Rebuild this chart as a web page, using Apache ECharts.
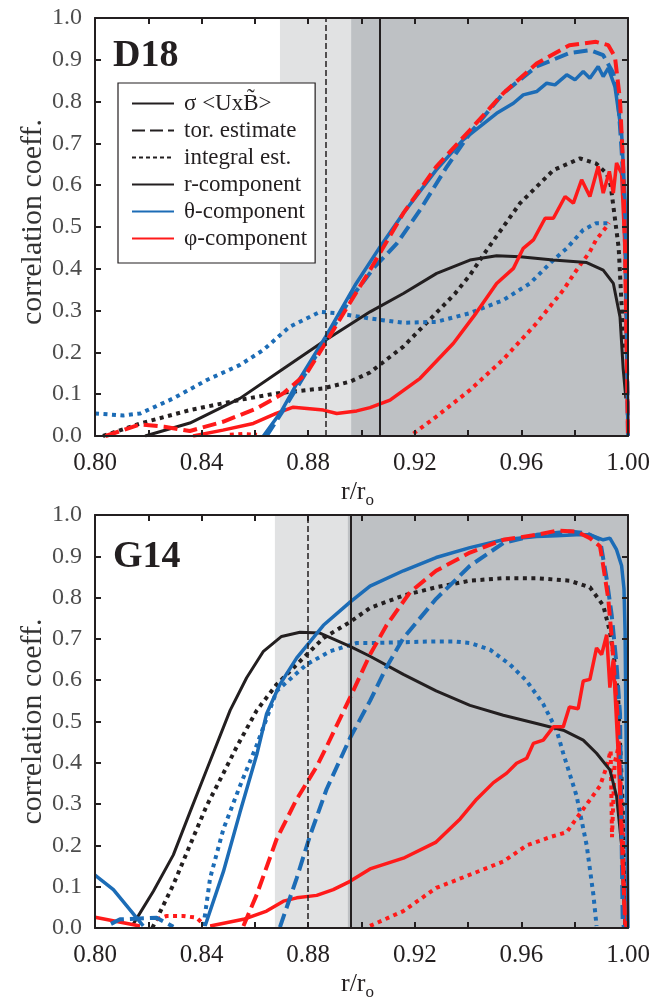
<!DOCTYPE html>
<html><head><meta charset="utf-8">
<script src="https://cdn.jsdelivr.net/npm/echarts@6/dist/echarts.min.js"></script>
<style>html,body{margin:0;padding:0;background:#fff}#c{width:653px;height:1002px}</style>
</head><body><div id="c"></div>
<script>
// ---------- data (r/r_o, correlation coeff.) ----------
const panelLabels = ['D18', 'G14'];
const xMin = 0.80, xMax = 1.00, xStep = 0.02;
const yMin = 0.0, yMax = 1.0, yStep = 0.1;
const legendNames = ['σ <UxB\u0303>', 'tor. estimate', 'integral est.', 'r-component', 'θ-component', 'φ-component'];

// D18 shaded regions [light start, dark start, end], marker lines
const D18_shade = [0.8694, 0.8961, 1.0];
const D18_markDashed = 0.8866;
const D18_markSolid = 0.9068;
// G14
const G14_shade = [0.8675, 0.8948, 1.0];
const G14_markDashed = 0.8798;
const G14_markSolid = 0.8961;

// ---- D18 ----
const D18_r = [[0.8188,0],[0.8356,0.031],[0.8544,0.09],[0.8682,0.15],[0.8857,0.226],[0.9032,0.297],[0.9157,0.341],[0.9282,0.389],[0.9407,0.421],[0.9507,0.431],[0.9595,0.429],[0.9719,0.421],[0.9845,0.415],[0.9907,0.397],[0.9945,0.365],[0.997,0.285],[0.9982,0.16],[0.9992,0.09]];
const D18_theta = [[0.8632,0],[0.870,0.06],[0.8757,0.125],[0.8863,0.235],[0.898,0.365],[0.907,0.453],[0.9157,0.533],[0.928,0.636],[0.938,0.708],[0.9507,0.772],[0.957,0.796],[0.9607,0.816],[0.9657,0.824],[0.9695,0.844],[0.9726,0.84],[0.977,0.864],[0.9801,0.852],[0.9832,0.872],[0.9857,0.856],[0.9888,0.884],[0.9907,0.86],[0.9926,0.88],[0.9951,0.836],[0.9976,0.724],[0.9989,0.565],[1.0,0.0]];
const D18_phi = [[0.8368,0],[0.848,0.014],[0.8594,0.03],[0.868,0.054],[0.8744,0.069],[0.8857,0.062],[0.8907,0.054],[0.8982,0.06],[0.9032,0.068],[0.9107,0.086],[0.922,0.138],[0.9345,0.222],[0.943,0.294],[0.9507,0.365],[0.957,0.401],[0.9607,0.449],[0.9645,0.469],[0.9689,0.521],[0.972,0.521],[0.9764,0.573],[0.9795,0.557],[0.9826,0.613],[0.9857,0.573],[0.9888,0.645],[0.9907,0.581],[0.993,0.633],[0.9945,0.581],[0.9957,0.653],[0.9976,0.628],[0.9989,0.445],[1.0,0.0]];
const D18_thetaTor = [[0.8644,0],[0.870,0.055],[0.8757,0.115],[0.8863,0.228],[0.896,0.33],[0.905,0.405],[0.9132,0.46],[0.922,0.541],[0.932,0.644],[0.9407,0.724],[0.9532,0.82],[0.9657,0.884],[0.978,0.916],[0.9857,0.923],[0.9907,0.911],[0.9945,0.868],[0.9963,0.804],[0.9976,0.684],[0.9989,0.533],[1.0,0.0]];
const D18_phiTor = [[0.804,0],[0.817,0.028],[0.826,0.022],[0.8356,0.012],[0.848,0.034],[0.8607,0.066],[0.8707,0.102],[0.8794,0.15],[0.8857,0.214],[0.8932,0.293],[0.9032,0.397],[0.9157,0.533],[0.928,0.644],[0.9407,0.732],[0.9532,0.82],[0.9657,0.891],[0.978,0.935],[0.988,0.943],[0.9926,0.935],[0.9951,0.907],[0.997,0.804],[0.9982,0.644],[0.9989,0.445],[1.0,0.0]];
const D18_rInt = [[0.803,0],[0.817,0.03],[0.8356,0.062],[0.854,0.086],[0.868,0.102],[0.8857,0.114],[0.8957,0.13],[0.9032,0.152],[0.9157,0.214],[0.928,0.294],[0.935,0.34],[0.9407,0.385],[0.947,0.445],[0.9595,0.557],[0.972,0.636],[0.982,0.664],[0.988,0.652],[0.992,0.628],[0.9935,0.6],[0.9965,0.45],[0.9985,0.2]];
const D18_thetaInt = [[0.8,0.054],[0.8106,0.049],[0.817,0.054],[0.8294,0.09],[0.842,0.134],[0.8544,0.17],[0.8632,0.206],[0.873,0.261],[0.8844,0.297],[0.8919,0.293],[0.9032,0.281],[0.9157,0.271],[0.928,0.273],[0.9407,0.294],[0.9532,0.325],[0.9632,0.365],[0.972,0.421],[0.977,0.449],[0.9832,0.493],[0.988,0.509],[0.9925,0.509]];
const D18_phiInt = [[0.8506,0.003],[0.8555,0.005],[0.8608,0.003],[0.861,null],[0.9195,0.006],[0.928,0.046],[0.9407,0.11],[0.953,0.182],[0.9657,0.27],[0.9757,0.349],[0.9807,0.397],[0.9857,0.441],[0.988,0.469],[0.992,0.501],[0.9929,0.51]];

// ---- G14 ----
const G14_r = [[0.8144,0.01],[0.8219,0.089],[0.8294,0.177],[0.8356,0.28],[0.8419,0.383],[0.8507,0.527],[0.8569,0.606],[0.8632,0.67],[0.87,0.706],[0.8769,0.716],[0.8844,0.714],[0.8957,0.682],[0.9032,0.658],[0.9157,0.614],[0.928,0.574],[0.9407,0.539],[0.9532,0.515],[0.9657,0.495],[0.9757,0.479],[0.9832,0.455],[0.9882,0.423],[0.9932,0.383],[0.9957,0.32],[0.9976,0.2],[0.9982,0.097],[0.999,0.0]];
const G14_theta = [[0.8,0.128],[0.8069,0.093],[0.8181,0.005],[0.8185,null],[0.8413,0.005],[0.8482,0.137],[0.8544,0.28],[0.8607,0.42],[0.8644,0.519],[0.8694,0.59],[0.8757,0.654],[0.8857,0.733],[0.8957,0.789],[0.9032,0.828],[0.9157,0.865],[0.928,0.897],[0.9407,0.921],[0.9532,0.94],[0.9657,0.948],[0.9732,0.95],[0.9807,0.952],[0.9857,0.952],[0.9907,0.94],[0.9932,0.944],[0.9957,0.916],[0.9976,0.877],[0.9985,0.821],[0.9989,0.718],[1.0,0.0]];
const G14_phi = [[0.8,0.026],[0.8169,0.005],[0.8175,null],[0.8432,0.005],[0.8557,0.021],[0.8644,0.041],[0.8707,0.065],[0.8757,0.073],[0.8832,0.079],[0.8894,0.093],[0.8957,0.113],[0.9032,0.143],[0.9157,0.169],[0.928,0.208],[0.937,0.264],[0.9432,0.312],[0.9495,0.352],[0.9545,0.375],[0.9582,0.399],[0.962,0.411],[0.9645,0.447],[0.9682,0.455],[0.972,0.487],[0.9757,0.487],[0.978,0.535],[0.9813,0.531],[0.9832,0.598],[0.9857,0.602],[0.9882,0.678],[0.9901,0.662],[0.992,0.71],[0.9932,0.582],[0.9945,0.65],[0.9965,0.4],[0.998,0.15],[0.999,0.0]];
const G14_thetaTor = [[0.806,0.01],[0.8094,0.021],[0.8231,0.025],[0.8294,0.003],[0.83,null],[0.8694,0.002],[0.8757,0.121],[0.8807,0.224],[0.8869,0.336],[0.8957,0.46],[0.9032,0.55],[0.9094,0.632],[0.9157,0.702],[0.928,0.797],[0.9407,0.877],[0.9532,0.932],[0.9657,0.952],[0.978,0.96],[0.9845,0.956],[0.9895,0.94],[0.992,0.845],[0.9939,0.757],[0.9957,0.638],[0.997,0.519],[0.998,0.017],[0.9985,0.0]];
const G14_phiTor = [[0.8557,0.005],[0.8607,0.081],[0.8682,0.216],[0.8757,0.312],[0.8832,0.391],[0.8869,0.439],[0.8957,0.558],[0.9032,0.662],[0.9094,0.733],[0.9182,0.813],[0.928,0.865],[0.9407,0.909],[0.9532,0.94],[0.9657,0.952],[0.9732,0.962],[0.9807,0.96],[0.9857,0.944],[0.9895,0.924],[0.9907,0.877],[0.9926,0.797],[0.9939,0.702],[0.9951,0.598],[0.9963,0.495],[0.9975,0.25],[0.9989,0.017],[0.9995,0.0]];
const G14_rInt = [[0.8215,0.0],[0.8294,0.105],[0.8356,0.2],[0.8419,0.296],[0.8482,0.375],[0.8532,0.439],[0.8607,0.527],[0.8682,0.59],[0.8757,0.638],[0.8857,0.702],[0.8957,0.741],[0.9032,0.775],[0.9157,0.805],[0.928,0.825],[0.9407,0.841],[0.9532,0.847],[0.9657,0.847],[0.978,0.841],[0.9857,0.825],[0.9907,0.781],[0.9932,0.718],[0.9951,0.638],[0.9963,0.558],[0.998,0.3],[0.999,0.0]];
const G14_thetaInt = [[0.8407,0.005],[0.8432,0.121],[0.8482,0.24],[0.8544,0.344],[0.8607,0.443],[0.8682,0.574],[0.8794,0.638],[0.8882,0.67],[0.8982,0.69],[0.9032,0.69],[0.9157,0.692],[0.928,0.694],[0.9345,0.694],[0.9407,0.69],[0.9482,0.674],[0.9557,0.638],[0.962,0.598],[0.9682,0.542],[0.9732,0.479],[0.9757,0.423],[0.9807,0.32],[0.9845,0.2],[0.987,0.081],[0.9882,0.005]];
const G14_phiInt = [[0.8231,0.021],[0.8269,0.029],[0.8331,0.029],[0.8381,0.025],[0.8406,0.01],[0.841,null],[0.9032,0.005],[0.9157,0.041],[0.928,0.097],[0.9407,0.129],[0.9532,0.161],[0.962,0.2],[0.9707,0.22],[0.977,0.232],[0.9832,0.288],[0.9895,0.344],[0.992,0.391],[0.9935,0.43],[0.994,0.22],[0.995,0.40],[0.9965,0.44],[0.998,0.25],[0.999,0.0]];

// ---------- styling ----------
const F = 'Liberation Serif';
const AX = '#231f20';
const BLACK = '#231f20', BLUE = '#1c6cb6', RED = '#ff1a1a';
const LIGHT = '#e1e2e3', DARK = '#bec1c4';
const SOLID = 'solid', DASH = [14, 6], DOT = [4, 4.5];

function xAxisCfg(gi, pos) {
  const bottom = pos === 'bottom';
  return {
    type: 'value', gridIndex: gi, position: pos, min: xMin, max: xMax, interval: xStep, z: 10,
    axisLine: { show: true, onZero: false, lineStyle: { color: AX, width: 2 } },
    axisTick: { show: true, inside: true, length: 6, lineStyle: { color: AX, width: 2 } },
    splitLine: { show: false },
    axisLabel: bottom ? {
      show: true, margin: 15, color: '#231f20', fontFamily: F, fontSize: 25,
      formatter: v => (Math.round(v * 100) % 4 === 0 ? v.toFixed(2) : '')
    } : { show: false },
    name: bottom ? '{a|r/r}{b|o}' : '', nameLocation: 'middle', nameGap: 40, nameMoveOverlap: false,
    nameTextStyle: {
      padding: [0, 8, 0, 0],
      rich: {
        a: { fontFamily: F, fontSize: 26, color: '#231f20' },
        b: { fontFamily: F, fontSize: 17, color: '#231f20', padding: [16, 0, 0, 0] }
      }
    }
  };
}
function yAxisCfg(gi, pos, shiftUp) {
  const left = pos === 'left';
  return {
    type: 'value', gridIndex: gi, position: pos, min: yMin, max: yMax, interval: yStep, z: 10,
    axisLine: { show: true, onZero: false, lineStyle: { color: AX, width: 2 } },
    axisTick: { show: true, inside: true, length: 6, lineStyle: { color: AX, width: 2 } },
    splitLine: { show: false },
    axisLabel: left ? {
      show: true, margin: 13, color: '#4d4d4d', fontFamily: F, fontSize: 24,
      formatter: v => v.toFixed(1)
    } : { show: false },
    name: left ? 'correlation coeff.' : '', nameLocation: 'middle', nameGap: 47, nameMoveOverlap: false,
    nameTextStyle: { fontFamily: F, fontSize: 30, color: '#333', padding: [0, 0, 0, shiftUp || 0] }
  };
}

function curve(name, data, color, type, width, gi) {
  return {
    type: 'line', name: name, data: data, xAxisIndex: gi * 2, yAxisIndex: gi * 2,
    symbol: 'none', showSymbol: false, connectNulls: false, z: 3, clip: true, silent: true,
    lineStyle: { color: color, type: type, width: width }
  };
}
function backdrop(gi, shade, dashedX, solidX) {
  return {
    type: 'line', name: 'bg' + gi, data: [], xAxisIndex: gi * 2, yAxisIndex: gi * 2, z: 1, silent: true,
    markArea: {
      silent: true,
      data: [
        [{ xAxis: shade[0], itemStyle: { color: LIGHT } }, { xAxis: shade[1] }],
        [{ xAxis: shade[1], itemStyle: { color: DARK } }, { xAxis: shade[2] }]
      ]
    },
    markLine: {
      silent: true, precision: 5, symbol: ['none', 'none'], label: { show: false },
      data: [
        { xAxis: dashedX, lineStyle: { color: BLACK, width: 1.5, type: [6, 3] } },
        { xAxis: solidX, lineStyle: { color: BLACK, width: 2, type: 'solid' } }
      ]
    }
  };
}
function legendSeries(name, color, type) {
  return { type: 'line', name: name, data: [], xAxisIndex: 0, yAxisIndex: 0, symbol: 'none', symbolSize: 0,
    lineStyle: { color: color, type: type, width: 5 }, itemStyle: { color: color } };
}

const panels = [
  { r: D18_r, th: D18_theta, ph: D18_phi, thT: D18_thetaTor, phT: D18_phiTor, rI: D18_rInt, thI: D18_thetaInt, phI: D18_phiInt, shade: D18_shade, md: D18_markDashed, ms: D18_markSolid },
  { r: G14_r, th: G14_theta, ph: G14_phi, thT: G14_thetaTor, phT: G14_phiTor, rI: G14_rInt, thI: G14_thetaInt, phI: G14_phiInt, shade: G14_shade, md: G14_markDashed, ms: G14_markSolid }
];

const series = [];
panels.forEach((p, gi) => {
  series.push(backdrop(gi, p.shade, p.md, p.ms));
  series.push(curve('rI' + gi, p.rI, BLACK, DOT, 4, gi));
  series.push(curve('thI' + gi, p.thI, BLUE, DOT, 4, gi));
  series.push(curve('phI' + gi, p.phI, RED, DOT, 4, gi));
  series.push(curve('r' + gi, p.r, BLACK, SOLID, 3, gi));
  series.push(curve('ph' + gi, p.ph, RED, SOLID, 3.5, gi));
  series.push(curve('th' + gi, p.th, BLUE, SOLID, 3.5, gi));
  series.push(curve('thT' + gi, p.thT, BLUE, DASH, 4, gi));
  series.push(curve('phT' + gi, p.phT, RED, DASH, 4, gi));
});
series.push(legendSeries(legendNames[0], BLACK, 'solid'));
series.push(legendSeries(legendNames[1], BLACK, [13, 5]));
series.push(legendSeries(legendNames[2], BLACK, [4, 3]));
series.push(legendSeries(legendNames[3], BLACK, 'solid'));
series.push(legendSeries(legendNames[4], BLUE, 'solid'));
series.push(legendSeries(legendNames[5], RED, 'solid'));

const option = {
  animation: false,
  backgroundColor: '#ffffff',
  grid: [
    { left: 95, top: 18, width: 533, height: 418, show: false },
    { left: 95, top: 515, width: 533, height: 419, show: false }
  ],
  xAxis: [xAxisCfg(0, 'bottom'), xAxisCfg(0, 'top'), xAxisCfg(1, 'bottom'), xAxisCfg(1, 'top')],
  yAxis: [yAxisCfg(0, 'left', 10), yAxisCfg(0, 'right'), yAxisCfg(1, 'left', 0), yAxisCfg(1, 'right')],
  legend: {
    show: true, data: legendNames, orient: 'vertical', left: 118, top: 83,
    backgroundColor: '#ffffff', borderColor: '#231f20', borderWidth: 1.2,
    padding: [9, 8, 13, 13], itemWidth: 42, itemHeight: 14, itemGap: 4,
    selectedMode: false, z: 20,
    itemStyle: { opacity: 0, borderWidth: 0 },
    textStyle: { fontFamily: F, fontSize: 23, color: '#231f20', padding: [0, 0, 0, 5], lineHeight: 23 }
  },
  graphic: [
    { type: 'text', left: 113, top: 37, z: 20, style: { text: panelLabels[0], fontFamily: F, fontWeight: 'bold', fontSize: 38, fill: '#231f20' } },
    { type: 'text', left: 113, top: 538, z: 20, style: { text: panelLabels[1], fontFamily: F, fontWeight: 'bold', fontSize: 38, fill: '#231f20' } }
  ],
  series: series
};

const chart = echarts.init(document.getElementById('c'), null, { renderer: 'canvas' });
chart.setOption(option);
</script>
</body></html>
